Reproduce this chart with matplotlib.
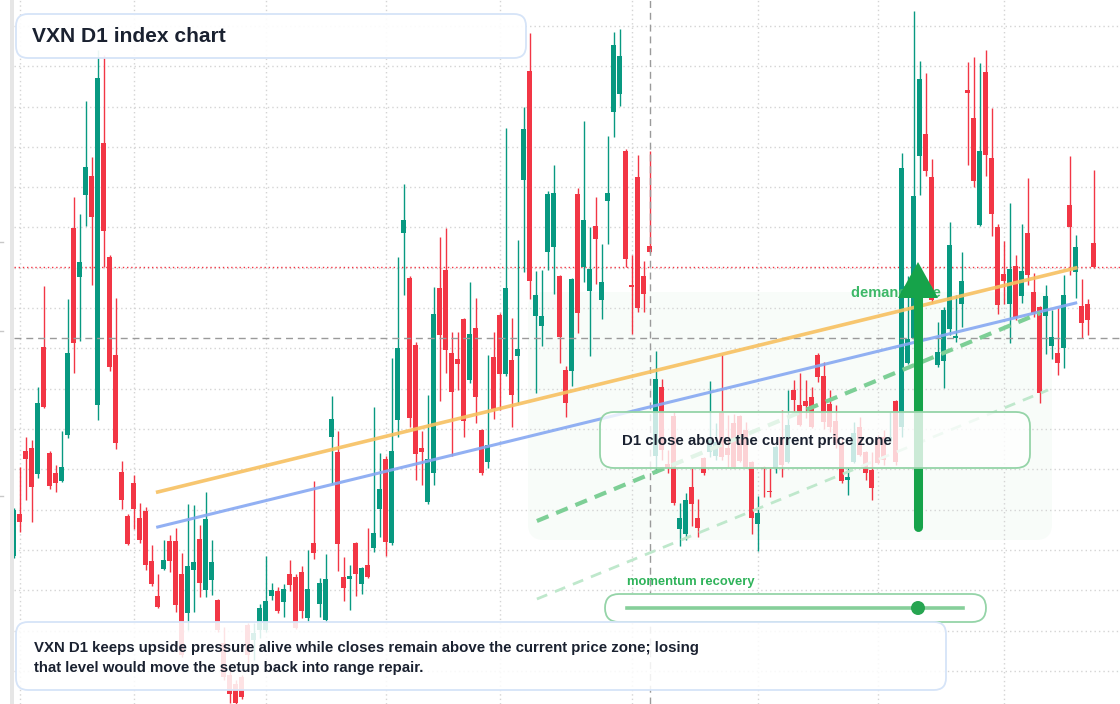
import matplotlib
matplotlib.use("Agg")
import matplotlib.pyplot as plt
import numpy as np
from matplotlib.patches import FancyBboxPatch, Polygon, Circle, Rectangle

plt.rcParams['font.family'] = ['Liberation Sans', 'DejaVu Sans']

# VXN daily candles
opens = [
    17.76, 19.44, 21.96, 22.08, 21.04, 26.12, 21.88, 21.08, 20.76, 22.60,
    30.88, 28.92, 32.20, 32.96, 23.80, 34.28, 29.72, 25.80, 21.12, 19.36,
    20.68, 19.28, 19.56, 17.56, 16.16, 17.24, 18.36, 18.36, 17.04, 15.48,
    17.20, 18.44, 16.40, 16.80, 16.00, 14.28, 13.00, 12.64, 12.92, 15.00,
    14.40, 14.80, 14.80, 16.16, 16.36, 15.92, 17.04, 16.92, 17.12, 15.28,
    18.28, 15.84, 15.20, 22.52, 21.92, 16.92, 16.84, 18.28, 16.64, 17.40,
    18.08, 19.64, 21.64, 18.28, 23.20, 30.68, 28.88, 26.20, 22.08, 19.92,
    21.08, 28.48, 29.20, 25.88, 25.64, 27.24, 24.80, 26.88, 22.80, 21.52,
    25.72, 27.40, 25.04, 25.60, 25.76, 32.80, 37.16, 27.36, 26.96, 29.92,
    30.12, 28.96, 25.20, 25.16, 32.24, 29.32, 28.36, 30.96, 28.00, 31.96,
    35.52, 36.24, 33.96, 28.60, 32.92, 28.96, 30.16, 21.76, 24.52, 21.44,
    23.36, 18.84, 18.64, 20.52, 19.28, 21.68, 21.92, 21.76, 23.52, 22.08,
    23.08, 23.36, 22.80, 21.52, 19.04, 21.32, 20.36, 21.28, 22.52, 21.52,
    24.40, 23.80, 23.96, 24.12, 25.80, 24.96, 23.84, 23.16, 22.28, 20.80,
    21.52, 22.92, 21.92, 21.20, 22.48, 22.52, 22.40, 23.96, 22.92, 25.48,
    26.48, 33.76, 34.64, 32.92, 25.40, 25.56, 26.84, 26.48, 27.84, 36.40,
    35.28, 31.00, 37.12, 33.68, 30.92, 29.04, 27.84, 29.36, 28.16, 30.68,
    28.32, 27.72, 27.36, 26.16, 25.88, 26.08, 31.80, 29.12, 27.76, 27.84,
    30.28]

highs = [
    19.68, 21.32, 22.52, 22.40, 24.52, 28.56, 21.96, 21.40, 22.76, 28.04,
    32.12, 31.44, 35.96, 33.72, 38.00, 37.80, 29.80, 28.08, 21.56, 19.44,
    21.00, 19.88, 19.72, 18.20, 17.04, 18.40, 18.60, 18.88, 17.88, 19.84,
    19.80, 19.00, 20.32, 18.40, 16.04, 14.92, 13.20, 12.80, 13.00, 15.08,
    15.08, 15.84, 17.76, 16.68, 16.52, 16.64, 17.60, 17.04, 17.36, 18.00,
    20.76, 16.88, 17.84, 24.16, 22.76, 17.72, 17.40, 18.32, 17.32, 18.88,
    23.72, 21.88, 21.76, 25.68, 29.72, 32.64, 28.96, 26.32, 22.76, 24.20,
    28.52, 30.52, 30.88, 26.72, 26.72, 27.28, 28.72, 28.08, 22.84, 25.80,
    26.72, 27.48, 34.88, 27.28, 30.40, 35.72, 38.68, 29.16, 29.20, 32.36,
    33.40, 29.00, 25.36, 28.88, 32.48, 35.16, 30.92, 32.12, 30.24, 34.56,
    38.72, 38.84, 34.04, 29.80, 33.80, 29.56, 33.96, 25.96, 24.84, 22.00,
    23.52, 19.88, 20.28, 21.28, 20.04, 21.72, 24.76, 23.08, 25.80, 23.40,
    23.44, 23.40, 23.12, 21.56, 20.16, 21.36, 21.28, 22.20, 23.60, 24.40,
    24.80, 25.08, 24.80, 24.52, 25.88, 25.52, 24.40, 23.80, 22.48, 21.32,
    23.12, 23.32, 21.96, 21.92, 22.60, 22.80, 23.52, 24.00, 33.88, 28.96,
    39.56, 37.56, 37.08, 33.64, 27.12, 27.72, 31.12, 28.20, 29.92, 37.52,
    37.72, 37.48, 38.00, 35.68, 31.04, 30.36, 31.88, 29.80, 31.04, 32.88,
    29.08, 27.76, 28.60, 27.60, 27.68, 29.00, 33.76, 30.60, 28.84, 28.04,
    33.20]

lows = [
    17.68, 18.72, 20.00, 19.12, 20.88, 23.68, 20.44, 20.32, 20.72, 22.48,
    25.08, 26.36, 30.96, 28.60, 23.20, 29.32, 25.16, 22.04, 19.64, 18.20,
    18.84, 18.28, 17.20, 16.56, 15.68, 17.20, 17.12, 15.52, 13.72, 14.80,
    15.52, 16.12, 16.12, 16.20, 14.72, 12.80, 11.88, 11.68, 12.04, 13.48,
    13.60, 14.48, 14.72, 16.00, 15.48, 15.32, 16.36, 14.84, 15.28, 15.12,
    17.64, 15.32, 15.12, 20.64, 17.16, 15.96, 15.60, 16.16, 16.24, 16.88,
    17.92, 18.52, 17.76, 18.20, 22.52, 28.20, 22.92, 20.80, 20.60, 19.84,
    20.60, 23.96, 25.08, 21.76, 24.40, 22.52, 24.68, 23.08, 21.00, 21.28,
    23.24, 23.60, 24.96, 22.92, 23.88, 29.12, 28.04, 24.28, 26.16, 29.20,
    28.24, 25.48, 23.32, 24.56, 26.68, 28.72, 25.76, 28.64, 27.24, 30.24,
    34.52, 35.76, 29.32, 26.64, 27.52, 27.52, 29.88, 21.08, 21.60, 21.08,
    19.80, 18.16, 18.40, 18.96, 18.52, 21.00, 21.72, 21.60, 21.60, 21.32,
    21.28, 21.52, 21.28, 18.64, 17.96, 20.12, 20.12, 21.08, 20.92, 21.48,
    23.52, 22.96, 23.28, 22.88, 24.72, 22.84, 22.72, 22.08, 20.68, 20.20,
    21.48, 21.76, 20.80, 20.00, 21.44, 21.40, 22.36, 21.40, 22.52, 25.44,
    26.40, 32.20, 32.96, 27.88, 25.32, 24.48, 26.60, 26.32, 26.92, 33.40,
    32.52, 30.96, 32.96, 30.56, 27.44, 27.84, 26.28, 27.20, 27.88, 28.60,
    27.32, 23.88, 25.84, 25.64, 25.00, 25.28, 29.00, 28.08, 26.48, 26.60,
    29.28]

closes = [
    19.60, 19.12, 21.64, 20.52, 23.88, 23.72, 20.56, 20.68, 21.32, 25.88,
    26.28, 29.52, 33.32, 31.32, 36.88, 30.76, 25.32, 22.28, 20.00, 18.24,
    19.64, 18.40, 17.40, 16.64, 15.72, 17.60, 17.56, 15.80, 13.80, 17.36,
    17.52, 16.68, 19.24, 17.52, 14.80, 12.92, 12.24, 11.88, 12.12, 13.80,
    14.68, 15.68, 15.96, 16.40, 15.56, 16.44, 16.60, 14.88, 15.56, 16.44,
    17.88, 16.68, 16.84, 23.24, 18.24, 16.48, 16.96, 17.04, 17.28, 16.92,
    18.68, 20.44, 18.32, 21.96, 26.08, 31.20, 23.28, 21.84, 21.92, 21.64,
    27.44, 26.60, 26.00, 24.32, 25.44, 23.16, 26.64, 24.12, 21.08, 22.20,
    23.64, 25.04, 28.48, 24.20, 26.04, 34.84, 28.76, 28.20, 27.36, 32.24,
    32.28, 26.52, 23.88, 28.84, 27.48, 31.20, 29.24, 30.44, 28.72, 32.28,
    38.20, 37.76, 29.64, 28.52, 27.68, 28.24, 29.92, 24.84, 22.00, 21.28,
    19.88, 19.28, 20.00, 19.84, 18.88, 21.08, 22.40, 22.32, 21.72, 21.80,
    21.32, 21.56, 21.32, 19.28, 19.48, 21.24, 20.32, 22.12, 21.40, 23.00,
    24.00, 23.00, 23.76, 22.92, 24.92, 23.12, 22.92, 22.28, 20.76, 20.92,
    22.68, 21.80, 21.08, 20.48, 21.48, 21.60, 22.52, 21.52, 33.28, 26.44,
    32.16, 36.84, 33.16, 28.00, 25.92, 27.60, 30.20, 26.56, 28.76, 36.28,
    32.76, 33.96, 33.80, 31.44, 27.80, 28.76, 29.24, 27.32, 29.16, 29.00,
    27.48, 24.28, 28.16, 26.52, 25.48, 28.20, 30.92, 30.12, 27.08, 27.20,
    29.32]

# first bar of each month (vertical grid)
month_starts = [1, 20, 42, 62, 81, 103, 124, 144, 165]
# crosshair position
cross_bar, cross_price = 106, 26.48
# trend lines: (bar, price) anchors
upper_trend = ([24, 177], [20.32, 29.28])
lower_trend = ([24, 177], [18.92, 27.88])
momentum_trend = ([87.2, 171.1], [19.16, 27.48])
support_trend = ([87.2, 172.4], [16.04, 24.40])

UP, DOWN = '#089981', '#f23645'
W, H = 1120, 704

fig = plt.figure(figsize=(W / 100, H / 100), dpi=100)
fig.patch.set_facecolor('white')

ax = fig.add_axes([14 / W, 0, 1 - 14 / W, 1])
ax.set_autoscale_on(False)
ax.set_xlim(0.05, (W - 13.7) / 6)
ax.set_ylim(40 - H * 0.04, 40)
ax.axis('off')

# pixel overlay for the annotation boxes
ov = fig.add_axes([0, 0, 1, 1])
ov.set_xlim(0, W)
ov.set_ylim(H, 0)
ov.axis('off')
ov.patch.set_alpha(0)
ov.set_zorder(2)

o = np.array(opens); c = np.array(closes)
hi = np.array(highs); lo = np.array(lows)
x = np.arange(len(o))
up = c >= o
col = np.where(up, UP, DOWN)

# green demand zone behind everything
ax.add_patch(FancyBboxPatch((528, 292), 524, 248, boxstyle="round,pad=0,rounding_size=16",
                            transform=ov.transData, fc='#f8fcf9', ec='none', zorder=0))

# grid
for g in 38.96 - 1.612 * np.arange(17):
    ax.axhline(g, color='#d4d4d4', lw=1, ls=(0, (1, 2.2)), zorder=1)
for m in month_starts:
    ax.axvline(m, color='#d4d4d4', lw=1, ls=(0, (1, 2.2)), zorder=1)

ax.axhline(c[-1], color=DOWN, lw=1, ls=(0, (1, 2)), zorder=1.5)

# candles
ax.vlines(x, lo, hi, colors=col, lw=1.0, zorder=2)
body = np.maximum(np.abs(c - o), 0.05)
ax.bar(x, body, bottom=np.minimum(o, c), width=0.78, color=col, lw=0, zorder=2.5)

# crosshair
ax.axhline(cross_price, color='#9a9a9a', lw=1, ls=(0, (5, 3.5)), zorder=3)
ax.axvline(cross_bar, color='#9a9a9a', lw=1, ls=(0, (5, 3.5)), zorder=3)

# trend lines
ax.plot(*upper_trend, color='#f7c060', lw=2.6, alpha=0.9, zorder=4)
ax.plot(*lower_trend, color='#86a8f2', lw=2.2, alpha=0.9, zorder=4)
ax.plot(*momentum_trend, color='#7dcf96', lw=3, dashes=(3, 2), zorder=4)
ax.plot(*support_trend, color='#bfe8cc', lw=2, dashes=(4, 3), zorder=4)

# left edge strip and ticks
ov.add_patch(Rectangle((10, 0), 3.5, H, fc='#e6e6e6', ec='none'))
for ty in [242, 331, 496]:
    ov.plot([0, 3], [ty, ty], color='#c8c8c8', lw=1)

# title box
ov.add_patch(FancyBboxPatch((16, 14), 510, 44, boxstyle="round,pad=0,rounding_size=12",
                            fc=(1, 1, 1, 0.92), ec='#d6e4f8', lw=1.3, zorder=5))
ov.text(32, 36, "VXN D1 index chart", fontsize=15.1, fontweight='bold', color='#1a2130',
        va='center', ha='left', zorder=6)

# demand side label + arrow
ov.text(851, 293, "demand side", fontsize=10.5, fontweight='bold', color='#3db868',
        va='center', ha='left', zorder=3)
ov.plot([918, 918], [297, 527], color='#16a34a', lw=6.5, solid_capstyle='round', zorder=4)
ov.add_patch(Polygon([(898, 298), (938, 298), (918, 262)], closed=True, fc='#16a34a',
                     ec='none', zorder=4))

# D1 close box
ov.add_patch(FancyBboxPatch((600, 412), 430, 56, boxstyle="round,pad=0,rounding_size=14",
                            fc=(1, 1, 1, 0.78), ec='#95d4a8', lw=1.3, zorder=5))
ov.text(622, 441, "D1 close above the current price zone", fontsize=10.8, fontweight='bold',
        color='#1a2130', va='center', ha='left', zorder=6)

# momentum slider
ov.text(627, 582, "momentum recovery", fontsize=9.4, fontweight='bold', color='#2fb35a',
        va='center', ha='left', zorder=6)
ov.add_patch(FancyBboxPatch((605, 594), 381, 28, boxstyle="round,pad=0,rounding_size=14",
                            fc='white', ec='#95d4a8', lw=1.3, zorder=5))
ov.plot([627, 963], [608, 608], color='#86cf9a', lw=2.6, zorder=6)
ov.add_patch(Circle((918, 608), 7, fc='#27a551', ec='none', zorder=7))

# bottom note
ov.add_patch(FancyBboxPatch((16, 622), 930, 68, boxstyle="round,pad=0,rounding_size=12",
                            fc=(1, 1, 1, 0.86), ec='#d6e4f8', lw=1.3, zorder=5))
ov.text(34, 648, "VXN D1 keeps upside pressure alive while closes remain above the current price zone; losing",
        fontsize=10.85, fontweight='bold', color='#1a2130', va='center', ha='left', zorder=6)
ov.text(34, 668, "that level would move the setup back into range repair.",
        fontsize=10.85, fontweight='bold', color='#1a2130', va='center', ha='left', zorder=6)

fig.savefig("out.png", dpi=100)
